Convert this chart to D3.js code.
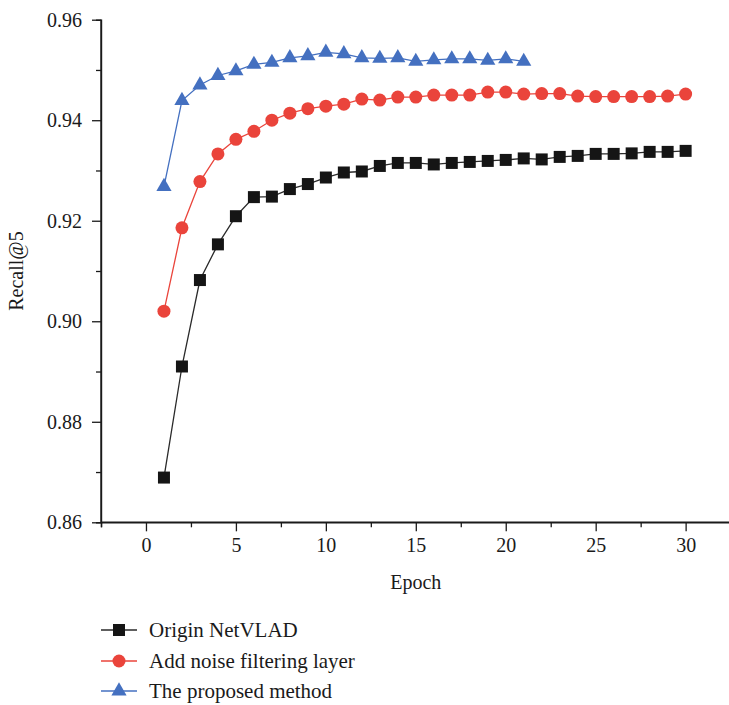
<!DOCTYPE html>
<html>
<head>
<meta charset="utf-8">
<script src="https://cdn.jsdelivr.net/npm/d3@7"></script>
<style>
  html, body { margin: 0; padding: 0; background: #fff; }
  svg { display: block; }
  text { font-family: "Liberation Serif", "DejaVu Serif", serif; fill: #1a1a1a; }
</style>
</head>
<body>
<svg id="chart" width="729" height="705"></svg>
<script>
// Recall@5 per training epoch for three model variants
const epochs = d3.range(1, 31);

const originNetVLAD = [
  0.8689, 0.8910, 0.9082, 0.9153, 0.9209, 0.9247, 0.9248, 0.9263, 0.9273, 0.9286,
  0.9296, 0.9298, 0.9309, 0.9315, 0.9315, 0.9312, 0.9315, 0.9317, 0.9319, 0.9321,
  0.9324, 0.9322, 0.9327, 0.9329, 0.9333, 0.9333, 0.9334, 0.9337, 0.9337, 0.9339
];

const noiseFiltering = [
  0.9020, 0.9186, 0.9278, 0.9333, 0.9362, 0.9378, 0.9400, 0.9414, 0.9423, 0.9428,
  0.9432, 0.9442, 0.9440, 0.9446, 0.9446, 0.9450, 0.9450, 0.9450, 0.9456, 0.9456,
  0.9452, 0.9453, 0.9453, 0.9448, 0.9447, 0.9447, 0.9447, 0.9447, 0.9448, 0.9452
];

const proposedMethod = [
  0.9268, 0.9439, 0.9470, 0.9489, 0.9498, 0.9511, 0.9515, 0.9524, 0.9528, 0.9535,
  0.9532, 0.9524, 0.9523, 0.9524, 0.9517, 0.9520, 0.9522, 0.9522, 0.9519, 0.9522,
  0.9517
];

const seriesNames = ["Origin NetVLAD", "Add noise filtering layer", "The proposed method"];

const xMajorTicks = [0, 5, 10, 15, 20, 25, 30];
const xMinorTicks = [-2.5, 2.5, 7.5, 12.5, 17.5, 22.5, 27.5, 32.5];
const yMajorTicks = [0.86, 0.88, 0.90, 0.92, 0.94, 0.96];
const yMinorTicks = [0.87, 0.89, 0.91, 0.93, 0.95];

const series = [
  { name: seriesNames[0], values: originNetVLAD, color: "#151515", line: "#2a2a2a", shape: d3.symbolSquare, size: 144 },
  { name: seriesNames[1], values: noiseFiltering, color: "#ea443b", line: "#ea443b", shape: d3.symbolCircle, size: 133 },
  { name: seriesNames[2], values: proposedMethod, color: "#4470c0", line: "#4470c0", shape: d3.symbolTriangle, size: 100 }
];

const svg = d3.select("#chart");

const x = d3.scaleLinear().domain([-2.5, 32.5]).range([101, 730.6]);
const y = d3.scaleLinear().domain([0.86, 0.96]).range([522.3, 19.7]);

// Axes: major ticks with labels, minor ticks without
const xAxisG = svg.append("g").attr("transform", `translate(0,${y(0.86)})`);
xAxisG.call(d3.axisBottom(x).tickValues(xMajorTicks).tickSize(9).tickPadding(7).tickFormat(d3.format("d")));
xAxisG.append("g").call(d3.axisBottom(x).tickValues(xMinorTicks).tickSize(5).tickFormat(""));

const yAxisG = svg.append("g").attr("transform", `translate(${x(-2.5)},0)`);
yAxisG.call(d3.axisLeft(y).tickValues(yMajorTicks).tickSize(9).tickPadding(10).tickFormat(d3.format(".2f")));
yAxisG.append("g").call(d3.axisLeft(y).tickValues(yMinorTicks).tickSize(5).tickFormat(""));

svg.selectAll(".domain").attr("stroke", "#1a1a1a").attr("stroke-width", 1.4);
svg.selectAll(".tick line").attr("stroke", "#1a1a1a").attr("stroke-width", 1.3);
svg.selectAll(".tick text").style("font-family", "Liberation Serif, serif").style("font-size", "20px").attr("fill", "#1a1a1a");
xAxisG.select(".domain").attr("d", `M${x(-2.5)},0H${x(32.5)}`);
yAxisG.select(".domain").attr("d", `M0,${y(0.86)}V${y(0.96)}`);

// Axis titles
svg.append("text")
  .attr("x", x(15))
  .attr("y", 589)
  .attr("text-anchor", "middle")
  .style("font-size", "20px")
  .text("Epoch");

svg.append("text")
  .attr("transform", `translate(23,${y(0.91)}) rotate(-90)`)
  .attr("text-anchor", "middle")
  .style("font-size", "20px")
  .text("Recall@5");

// Lines and markers
const line = d3.line()
  .x((d, i) => x(epochs[i]))
  .y(d => y(d));

series.forEach(s => {
  const g = svg.append("g");
  g.append("path")
    .datum(s.values)
    .attr("fill", "none")
    .attr("stroke", s.line)
    .attr("stroke-width", 1.3)
    .attr("d", line);
  g.selectAll("path.marker")
    .data(s.values)
    .enter()
    .append("path")
    .attr("class", "marker")
    .attr("transform", (d, i) => `translate(${x(epochs[i])},${y(d)})`)
    .attr("d", d3.symbol().type(s.shape).size(s.size))
    .attr("fill", s.color);
});

// Legend
const legendRows = [630, 661, 691];
series.forEach((s, i) => {
  const g = svg.append("g").attr("transform", `translate(0,${legendRows[i]})`);
  g.append("line")
    .attr("x1", 101).attr("x2", 137)
    .attr("y1", 0).attr("y2", 0)
    .attr("stroke", s.line).attr("stroke-width", 1.3);
  g.append("path")
    .attr("transform", "translate(119,0)")
    .attr("d", d3.symbol().type(s.shape).size(s.size))
    .attr("fill", s.color);
  g.append("text")
    .attr("x", 149)
    .attr("y", 0)
    .attr("dy", "0.33em")
    .style("font-size", "21px")
    .text(s.name);
});
</script>
</body>
</html>
